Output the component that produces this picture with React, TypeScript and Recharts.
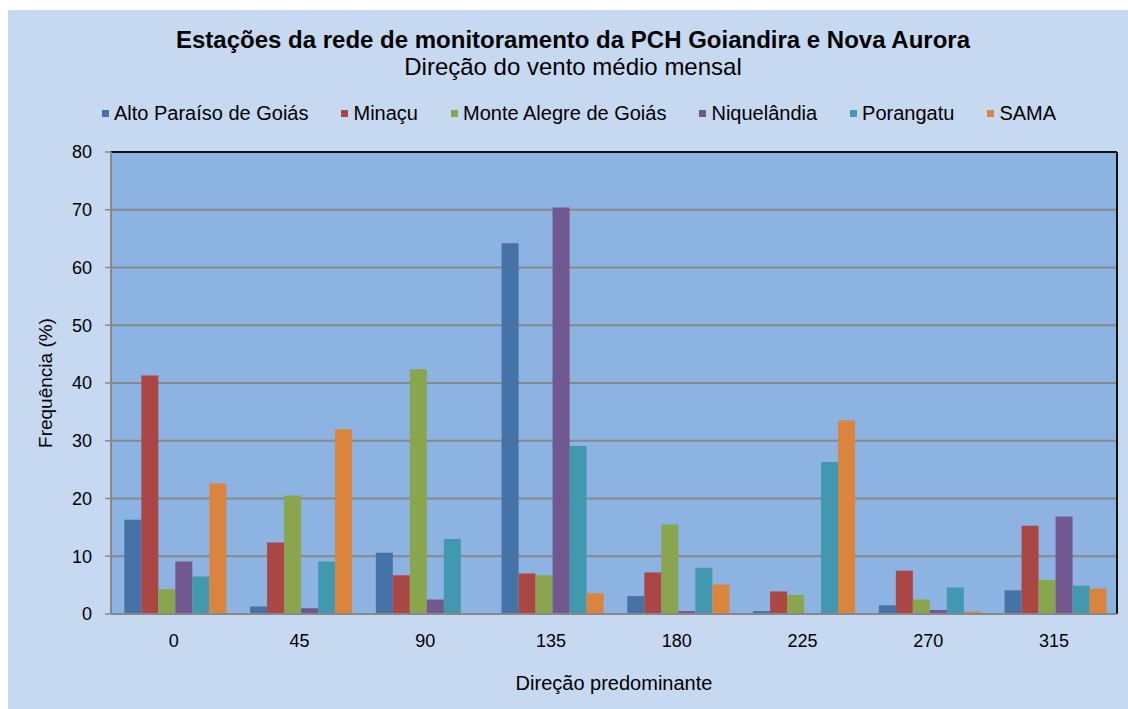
import React from "react";
import { BarChart, Bar, XAxis, YAxis, CartesianGrid, ReferenceLine } from "recharts";

const directions = ["0", "45", "90", "135", "180", "225", "270", "315"];
const altoParaiso = [16.3, 1.3, 10.6, 64.2, 3.1, 0.5, 1.5, 4.1];
const minacu = [41.3, 12.4, 6.7, 7.0, 7.2, 3.9, 7.5, 15.3];
const monteAlegre = [4.3, 20.5, 42.4, 6.7, 15.5, 3.3, 2.5, 5.9];
const niquelandia = [9.1, 1.0, 2.5, 70.4, 0.5, 0, 0.7, 16.9];
const porangatu = [6.5, 9.1, 13.0, 29.1, 8.0, 26.3, 4.6, 4.9];
const sama = [22.6, 32.0, 0, 3.6, 5.1, 33.5, 0.4, 4.4];
const yTicks = [0, 10, 20, 30, 40, 50, 60, 70, 80];

const series = [
  { key: "alto", name: "Alto Paraíso de Goiás", color: "#4572A7", values: altoParaiso },
  { key: "minacu", name: "Minaçu", color: "#AA4643", values: minacu },
  { key: "monte", name: "Monte Alegre de Goiás", color: "#89A54E", values: monteAlegre },
  { key: "niq", name: "Niquelândia", color: "#71588F", values: niquelandia },
  { key: "por", name: "Porangatu", color: "#4198AF", values: porangatu },
  { key: "sama", name: "SAMA", color: "#DB843D", values: sama },
];

const data = directions.map((d, i) => {
  const row: any = { dir: d, pos: i + 0.5 };
  series.forEach((s) => (row[s.key] = s.values[i]));
  return row;
});

const FONT = '"Liberation Sans", Arial, sans-serif';

export default function App() {
  return (
    <div style={{ position: "absolute", left: 0, top: 0, width: 1128, height: 709, background: "#fff", fontFamily: FONT, overflow: "hidden" }}>
      <div style={{ position: "absolute", left: 8, top: 10, width: 1120, height: 699, background: "#C6D9F1" }}>
        <div style={{ position: "absolute", left: 0, width: 1130, top: 16, textAlign: "center", fontSize: 24, fontWeight: "bold", lineHeight: "28px" }}>
          Estações da rede de monitoramento da PCH Goiandira  e Nova Aurora
        </div>
        <div style={{ position: "absolute", left: 0, width: 1130, top: 43, textAlign: "center", fontSize: 24, lineHeight: "28px" }}>
          Direção do vento médio mensal
        </div>
        <div style={{ position: "absolute", left: 0, width: 1142, top: 91, display: "flex", justifyContent: "center", fontSize: 20, lineHeight: "24px" }}>
          {series.map((s, i) => (
            <div key={s.key} style={{ display: "flex", alignItems: "center", marginRight: i < series.length - 1 ? 33 : 0 }}>
              <span style={{ display: "inline-block", width: 7, height: 7, background: s.color, marginRight: 5 }} />
              <span>{s.name}</span>
            </div>
          ))}
        </div>
        <div style={{ position: "absolute", left: 38, top: 373, width: 0, height: 0 }}>
          <div style={{ position: "absolute", left: -100, top: -11, width: 200, textAlign: "center", fontSize: 19, lineHeight: "22px", transform: "rotate(-90deg)" }}>
            Frequência (%)
          </div>
        </div>
        <div style={{ position: "absolute", left: 106, width: 1000, top: 661, textAlign: "center", fontSize: 20, lineHeight: "24px" }}>
          Direção predominante
        </div>
        <BarChart
          width={1120}
          height={699}
          data={data}
          margin={{ top: 142, right: 11, bottom: 55, left: 0 }}
          barCategoryGap="10.6%"
          barGap={0}
        >
          <CartesianGrid vertical={false} fill="#8DB3E2" stroke="#888" strokeWidth={2} />
          <XAxis
            xAxisId="b"
            type="number"
            dataKey="pos"
            domain={[0, 8]}
            ticks={[0, 1, 2, 3, 4, 5, 6, 7, 8]}
            tickFormatter={() => ""}
            height={0}
            axisLine={false}
            tickLine={{ stroke: "#888", strokeWidth: 1.5 }}
            tickSize={6}
          />
          <XAxis
            dataKey="dir"
            tickLine={false}
            tickSize={0}
            tickMargin={20}
            axisLine={{ stroke: "#888", strokeWidth: 2 }}
            tick={{ fill: "#000", fontSize: 18, fontFamily: FONT }}
            height={40}
          />
          <YAxis
            domain={[0, 80]}
            ticks={yTicks}
            width={103}
            tickSize={6}
            tickMargin={13}
            axisLine={{ stroke: "#888", strokeWidth: 2 }}
            tickLine={{ stroke: "#888", strokeWidth: 1.5 }}
            tick={{ fill: "#000", fontSize: 18, fontFamily: FONT }}
          />
          <ReferenceLine y={80} stroke="#111" strokeWidth={2} />
          <ReferenceLine xAxisId="b" x={8} stroke="#111" strokeWidth={2} />
          {series.map((s) => (
            <Bar key={s.key} dataKey={s.key} name={s.name} fill={s.color} isAnimationActive={false} />
          ))}
        </BarChart>
      </div>
    </div>
  );
}
